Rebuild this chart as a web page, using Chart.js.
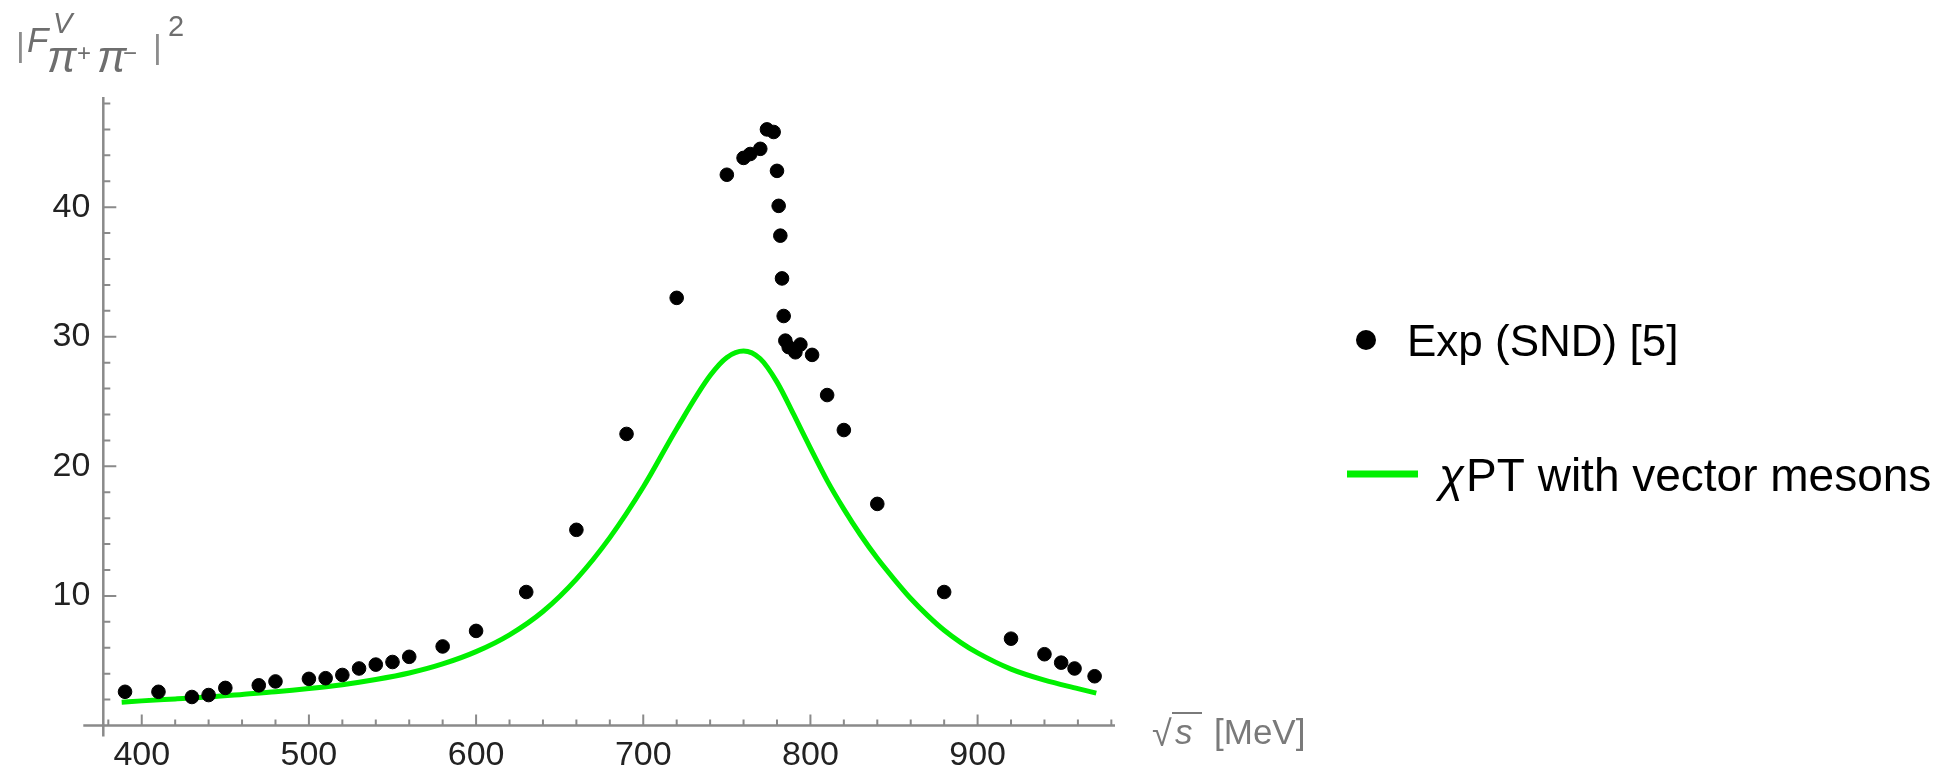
<!DOCTYPE html>
<html>
<head>
<meta charset="utf-8">
<script src="https://cdn.jsdelivr.net/npm/chart.js@4.4.1/dist/chart.umd.min.js"></script>
<style>
  html, body { margin: 0; padding: 0; background: #fff; }
  #wrap { width: 1952px; height: 772px; }
</style>
</head>
<body>
<div id="wrap"><canvas id="formFactorChart" width="1952" height="772"></canvas></div>
<script>
// SND data points (sqrt(s) in MeV, |F|^2)
const expEnergy = [390, 410, 430, 440, 450, 470, 480, 500, 510, 520, 530, 540, 550, 560, 580, 600,
  630, 660, 690, 720, 750, 760, 764, 770, 774, 778, 780, 781, 782, 783, 784, 785, 787, 791, 794, 801,
  810, 820, 840, 880, 920, 940, 950, 958, 970];
const expValue = [2.6, 2.6, 2.2, 2.35, 2.9, 3.1, 3.4, 3.6, 3.65, 3.9, 4.4, 4.7, 4.9, 5.3, 6.1, 7.3,
  10.3, 15.1, 22.5, 33.0, 42.5, 43.8, 44.1, 44.5, 46.0, 45.8, 42.8, 40.1, 37.8, 34.5, 31.6, 29.7, 29.2, 28.8, 29.4, 28.6,
  25.5, 22.8, 17.1, 10.3, 6.7, 5.5, 4.85, 4.4, 3.8];

// chiPT curve
const fitEnergy = [388, 400, 420, 440, 460, 480, 500, 520, 540, 560, 580, 600, 620, 640, 660, 680,
  700, 720, 740, 750, 760, 770, 780, 790, 800, 810, 820, 830, 840, 850, 860, 870, 880, 890, 900,
  920, 940, 960, 971];
const fitValue = [1.8, 1.9, 2.05, 2.2, 2.4, 2.6, 2.85, 3.15, 3.55, 4.05, 4.75, 5.7, 7.0, 8.8, 11.3, 14.5,
  18.4, 22.9, 27.0, 28.4, 28.9, 28.3, 26.5, 24.0, 21.4, 18.9, 16.7, 14.7, 12.9, 11.3, 9.8, 8.5, 7.35, 6.4, 5.6,
  4.35, 3.5, 2.85, 2.5];

const xTickValues = [400, 500, 600, 700, 800, 900];
const yTickValues = [10, 20, 30, 40];

const GREEN = '#00f000';
const AXIS = '#8a8a8a';
const TITLE_GRAY = '#6e6e6e';

Chart.defaults.font.family = '"Liberation Sans", Arial, sans-serif';

// Mathematica-like axes: lines crossing, ticks pointing inward
const axesPlugin = {
  id: 'mmaAxes',
  beforeDatasetsDraw(chart) {
    const { ctx, scales: { x, y } } = chart;
    const x0 = x.getPixelForValue(x.min);
    const y0 = y.getPixelForValue(0);
    ctx.save();
    ctx.strokeStyle = AXIS;
    ctx.lineWidth = 2.5;
    ctx.beginPath();
    ctx.moveTo(x.left - 20, y0); ctx.lineTo(x.right + 2, y0);
    ctx.moveTo(x0, y.top); ctx.lineTo(x0, y.bottom + 11);
    ctx.stroke();
    ctx.lineWidth = 2;
    ctx.beginPath();
    for (let v = 380; v <= 980; v += 20) {
      const px = x.getPixelForValue(v);
      const len = v % 100 === 0 ? 11 : 6;
      ctx.moveTo(px, y0); ctx.lineTo(px, y0 - len);
    }
    for (let v = 2; v <= 48; v += 2) {
      const py = y.getPixelForValue(v);
      const len = v % 10 === 0 ? 13 : 7;
      ctx.moveTo(x0, py); ctx.lineTo(x0 + len, py);
    }
    ctx.stroke();
    ctx.restore();
  },
  afterDraw(chart) {
    const ctx = chart.ctx;
    const fam = '"Liberation Sans", Arial, sans-serif';
    ctx.save();
    ctx.textBaseline = 'alphabetic';
    ctx.textAlign = 'left';

    // y axis title |F^V_{pi+ pi-}|^2
    ctx.fillStyle = '#8c8c8c';
    ctx.font = '34px ' + fam;
    ctx.fillText('|', 16, 56);
    ctx.fillText('|', 153, 58);
    ctx.fillStyle = TITLE_GRAY;
    ctx.font = 'italic 35px ' + fam;
    ctx.fillText('F', 27, 52);
    ctx.font = 'italic 29px ' + fam;
    ctx.fillText('V', 53, 33);
    ctx.font = 'italic 44px ' + fam;
    ctx.fillText('π', 47, 72);
    ctx.fillText('π', 97, 72);
    ctx.font = '24px ' + fam;
    ctx.fillText('+', 77, 61);
    ctx.fillText('−', 123, 61);
    ctx.font = '29px ' + fam;
    ctx.fillText('2', 168, 36);

    // x axis title sqrt(s) [MeV]
    ctx.fillStyle = '#7a7a7a';
    ctx.strokeStyle = '#7a7a7a';
    ctx.font = '36px ' + fam;
    ctx.fillText('√', 1152, 746);
    ctx.font = 'italic 35px ' + fam;
    ctx.fillText('s', 1175, 744);
    ctx.lineWidth = 2;
    ctx.beginPath();
    ctx.moveTo(1172, 713); ctx.lineTo(1202, 713);
    ctx.stroke();
    ctx.font = '35px ' + fam;
    ctx.fillText('[MeV]', 1214, 744);

    // legend
    ctx.fillStyle = '#000';
    ctx.beginPath();
    ctx.arc(1366, 340, 10, 0, Math.PI * 2);
    ctx.fill();
    ctx.font = '44px ' + fam;
    ctx.fillText('Exp (SND) [5]', 1407, 356);
    ctx.strokeStyle = GREEN;
    ctx.lineWidth = 7;
    ctx.beginPath();
    ctx.moveTo(1347, 474); ctx.lineTo(1418, 474);
    ctx.stroke();
    ctx.font = 'italic 46px ' + fam;
    ctx.fillText('χ', 1439, 491);
    const chiW = ctx.measureText('χ').width;
    ctx.font = '46px ' + fam;
    ctx.fillText('PT with vector mesons', 1439 + chiW + 2, 491);
    ctx.restore();
  }
};

new Chart(document.getElementById('formFactorChart'), {
  type: 'scatter',
  data: {
    datasets: [{
      label: 'Exp (SND) [5]',
      data: expEnergy.map((e, i) => ({ x: e, y: expValue[i] })),
      backgroundColor: '#000',
      borderColor: '#000',
      borderWidth: 1,
      pointRadius: 6.8,
      showLine: false,
      order: 0
    }, {
      label: 'χPT with vector mesons',
      data: fitEnergy.map((e, i) => ({ x: e, y: fitValue[i] })),
      borderColor: GREEN,
      borderWidth: 5,
      pointRadius: 0,
      showLine: true,
      fill: false,
      cubicInterpolationMode: 'monotone',
      order: 1
    }]
  },
  options: {
    responsive: false,
    animation: false,
    layout: { padding: { left: 0, right: 839, top: 97, bottom: 0 } },
    plugins: {
      legend: { display: false },
      tooltip: { enabled: false }
    },
    scales: {
      x: {
        type: 'linear',
        min: 377,
        max: 981,
        grid: { display: false, drawTicks: false },
        border: { display: false },
        ticks: { color: '#222', font: { size: 34 }, padding: 10, maxRotation: 0 },
        afterBuildTicks: (scale) => { scale.ticks = xTickValues.map(v => ({ value: v })); },
        afterFit: (scale) => { scale.height = 46.5; }
      },
      y: {
        type: 'linear',
        min: 0,
        max: 48.5,
        grid: { display: false, drawTicks: false },
        border: { display: false },
        ticks: { color: '#222', font: { size: 34 }, padding: 13 },
        afterBuildTicks: (scale) => { scale.ticks = yTickValues.map(v => ({ value: v })); },
        afterFit: (scale) => { scale.width = 103.3; }
      }
    }
  },
  plugins: [axesPlugin]
});
</script>
</body>
</html>
